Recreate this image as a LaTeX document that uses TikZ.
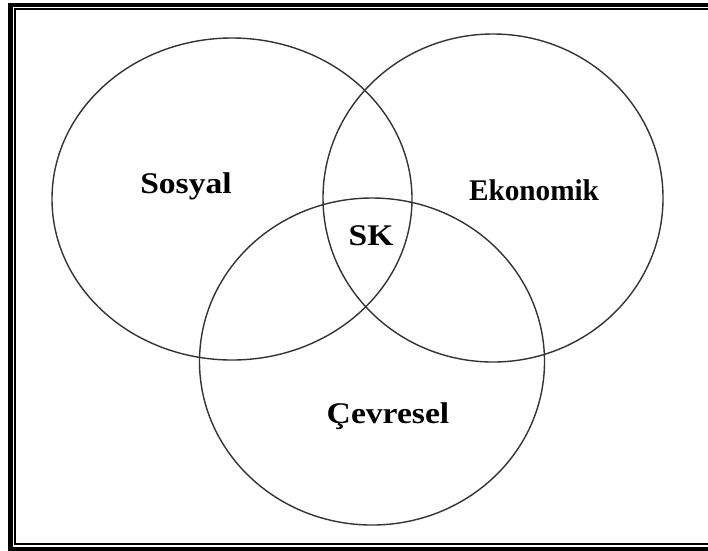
\documentclass[tikz,border=0pt]{standalone}
\usepackage{fontspec}
\setmainfont{Liberation Serif}
\begin{document}
\begin{tikzpicture}[x=1pt,y=-1pt,
  ring/.style={draw=black!80,line width=1.4pt},
  lbl/.style={font=\fontsize{30}{36}\selectfont\bfseries,anchor=base,xscale=1.12,inner sep=0pt}]
\useasboundingbox (0,0) rectangle (708,550);
\clip (0,0) rectangle (708,550);
% frame
\draw[line width=4.6pt] (10.5,560) -- (10.5,5) -- (720,5);
\draw[line width=2pt] (15,544) -- (15,9) -- (720,9);
\draw[line width=2pt] (14,544) -- (720,544);
\draw[line width=4pt] (8,548.5) -- (720,548.5);
% circles
\draw[ring] (232,199) ellipse [x radius=180,y radius=161];
\draw[ring] (493,198) ellipse [x radius=170,y radius=164];
\draw[ring] (372,361.5) ellipse [x radius=172.5,y radius=163.5];
% labels
\node[lbl] (sos) at (186,193) {Sosyal};
\node[lbl,xscale=0.87] (eko) at (534,200) {Ekonomik};
\node[lbl] (sk) at (371,245) {SK};
\node[lbl] (cev) at (388,423) {Çevresel};
\end{tikzpicture}
\end{document}
